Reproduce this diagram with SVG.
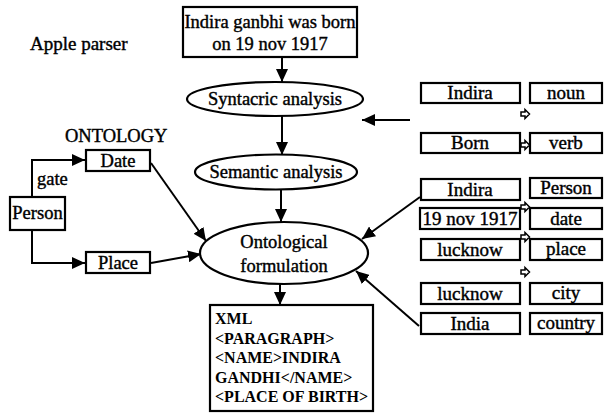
<svg xmlns="http://www.w3.org/2000/svg" width="605" height="413" viewBox="0 0 605 413">
<style>
  .t { font-family: "Liberation Serif", "Times New Roman", serif; font-size: 18.5px; fill: #000; stroke: #000; stroke-width: 0.4; }
  .r { font-size: 19px; }
  .c { text-anchor: middle; }
  .x { font-family: "Liberation Serif", "Times New Roman", serif; font-size: 16px; font-weight: bold; fill: #000; }
  .box { fill: #fff; stroke: #000; stroke-width: 2.2; }
  .conn { fill: none; stroke: #000; stroke-width: 2; }
  .blk { fill: #fff; stroke: #000; stroke-width: 1.5; }
</style>
<defs>
  <marker id="ah" markerUnits="userSpaceOnUse" markerWidth="13" markerHeight="12" refX="13" refY="6" orient="auto">
    <path d="M0,0 L13,6 L0,12 z" fill="#000"/>
  </marker>
</defs>
<rect width="605" height="413" fill="#fff"/>

<text class="t" x="30" y="50" style="font-size:19px">Apple parser</text>
<text class="t" x="65" y="142">ONTOLOGY</text>
<text class="t" x="37" y="185">gate</text>

<g id="connectors">
  <path class="conn" d="M282,57 L282,82" marker-end="url(#ah)"/>
  <path class="conn" d="M282,116 L282,155" marker-end="url(#ah)"/>
  <path class="conn" d="M281,190 L281,222" marker-end="url(#ah)"/>
  <path class="conn" d="M280,284 L280,305" marker-end="url(#ah)"/>
  <path class="conn" d="M32,197 L32,160 L85,160" marker-end="url(#ah)"/>
  <path class="conn" d="M32,230 L32,263 L85,263" marker-end="url(#ah)"/>
  <path class="conn" d="M151,163 L206,241" marker-end="url(#ah)"/>
  <path class="conn" d="M151,263 L201,254" marker-end="url(#ah)"/>
  <path class="conn" d="M410,120 L362,120" marker-end="url(#ah)"/>
  <path class="conn" d="M420,197 L362,239" marker-end="url(#ah)"/>
  <path class="conn" d="M419,326 L356,271" marker-end="url(#ah)"/>
</g>

<g id="top">
  <rect class="box" x="183" y="7" width="174" height="50"/>
  <text class="t c" x="270" y="28">Indira ganbhi was born</text>
  <text class="t c" x="270" y="50">on 19 nov 1917</text>
</g>
<g id="syntactic">
  <ellipse class="box" cx="275" cy="99" rx="88" ry="17"/>
  <text class="t c" x="275" y="105">Syntacric analysis</text>
</g>
<g id="semantic">
  <ellipse class="box" cx="276" cy="172" rx="81" ry="17.5"/>
  <text class="t c" x="276" y="178">Semantic analysis</text>
</g>
<g id="ontological">
  <ellipse class="box" cx="284" cy="253" rx="84" ry="31"/>
  <text class="t c" x="284" y="248">Ontological</text>
  <text class="t c" x="284" y="272">formulation</text>
</g>
<g id="xml">
  <rect class="box" x="210" y="305" width="163" height="106"/>
  <text class="x" x="215" y="324">XML</text>
  <text class="x" x="215" y="343.5">&lt;PARAGRAPH&gt;</text>
  <text class="x" x="215" y="363">&lt;NAME&gt;INDIRA</text>
  <text class="x" x="215" y="382.5">GANDHI&lt;/NAME&gt;</text>
  <text class="x" x="215" y="402">&lt;PLACE OF BIRTH&gt;</text>
</g>
<g id="date">
  <rect class="box" x="86" y="150" width="64" height="21"/>
  <text class="t c" x="118" y="167">Date</text>
</g>
<g id="person">
  <rect class="box" x="10" y="197" width="55" height="33"/>
  <text class="t c" x="37.5" y="219">Person</text>
</g>
<g id="place">
  <rect class="box" x="86" y="252" width="64" height="21"/>
  <text class="t c" x="118" y="269">Place</text>
</g>

<g id="block-arrows">
  <path class="blk" d="M521,112 L525,112 L525,109.5 L529.5,114 L525,118.5 L525,116 L521,116 z"/>
  <path class="blk" d="M521,143 L525,143 L525,140.5 L529.5,145 L525,149.5 L525,147 L521,147 z"/>
  <path class="blk" d="M521,205 L525,205 L525,202.5 L529.5,207 L525,211.5 L525,209 L521,209 z"/>
  <path class="blk" d="M521,235 L525,235 L525,232.5 L529.5,237 L525,241.5 L525,239 L521,239 z"/>
  <path class="blk" d="M521,270 L525,270 L525,267.5 L529.5,272 L525,276.5 L525,274 L521,274 z"/>
</g>

<g id="r-indira1">
  <rect class="box" x="421" y="83" width="99" height="20"/>
  <text class="t r c" x="470" y="99">Indira</text>
</g>
<g id="r-noun">
  <rect class="box" x="530" y="83" width="72" height="20"/>
  <text class="t r c" x="566" y="99">noun</text>
</g>
<g id="r-born">
  <rect class="box" x="421" y="133" width="99" height="20"/>
  <text class="t r c" x="470" y="149">Born</text>
</g>
<g id="r-verb">
  <rect class="box" x="530" y="133" width="72" height="20"/>
  <text class="t r c" x="566" y="149">verb</text>
</g>
<g id="r-indira2">
  <rect class="box" x="421" y="179" width="99" height="21"/>
  <text class="t r c" x="470" y="196">Indira</text>
</g>
<g id="r-person">
  <rect class="box" x="530" y="178" width="72" height="20"/>
  <text class="t r c" x="566" y="194">Person</text>
</g>
<g id="r-19nov">
  <rect class="box" x="420" y="208" width="100" height="21"/>
  <text class="t r c" x="470" y="225">19 nov 1917</text>
</g>
<g id="r-date">
  <rect class="box" x="530" y="208" width="72" height="21"/>
  <text class="t r c" x="566" y="225">date</text>
</g>
<g id="r-lucknow1">
  <rect class="box" x="421" y="239" width="99" height="21"/>
  <text class="t r c" x="470" y="256">lucknow</text>
</g>
<g id="r-place">
  <rect class="box" x="530" y="239" width="72" height="21"/>
  <text class="t r c" x="566" y="255">place</text>
</g>
<g id="r-lucknow2">
  <rect class="box" x="421" y="283" width="99" height="21"/>
  <text class="t r c" x="470" y="300">lucknow</text>
</g>
<g id="r-city">
  <rect class="box" x="530" y="283" width="72" height="21"/>
  <text class="t r c" x="566" y="299">city</text>
</g>
<g id="r-india">
  <rect class="box" x="421" y="313" width="99" height="21"/>
  <text class="t r c" x="470" y="330">India</text>
</g>
<g id="r-country">
  <rect class="box" x="530" y="313" width="72" height="21"/>
  <text class="t r c" x="566" y="329">country</text>
</g>
</svg>
